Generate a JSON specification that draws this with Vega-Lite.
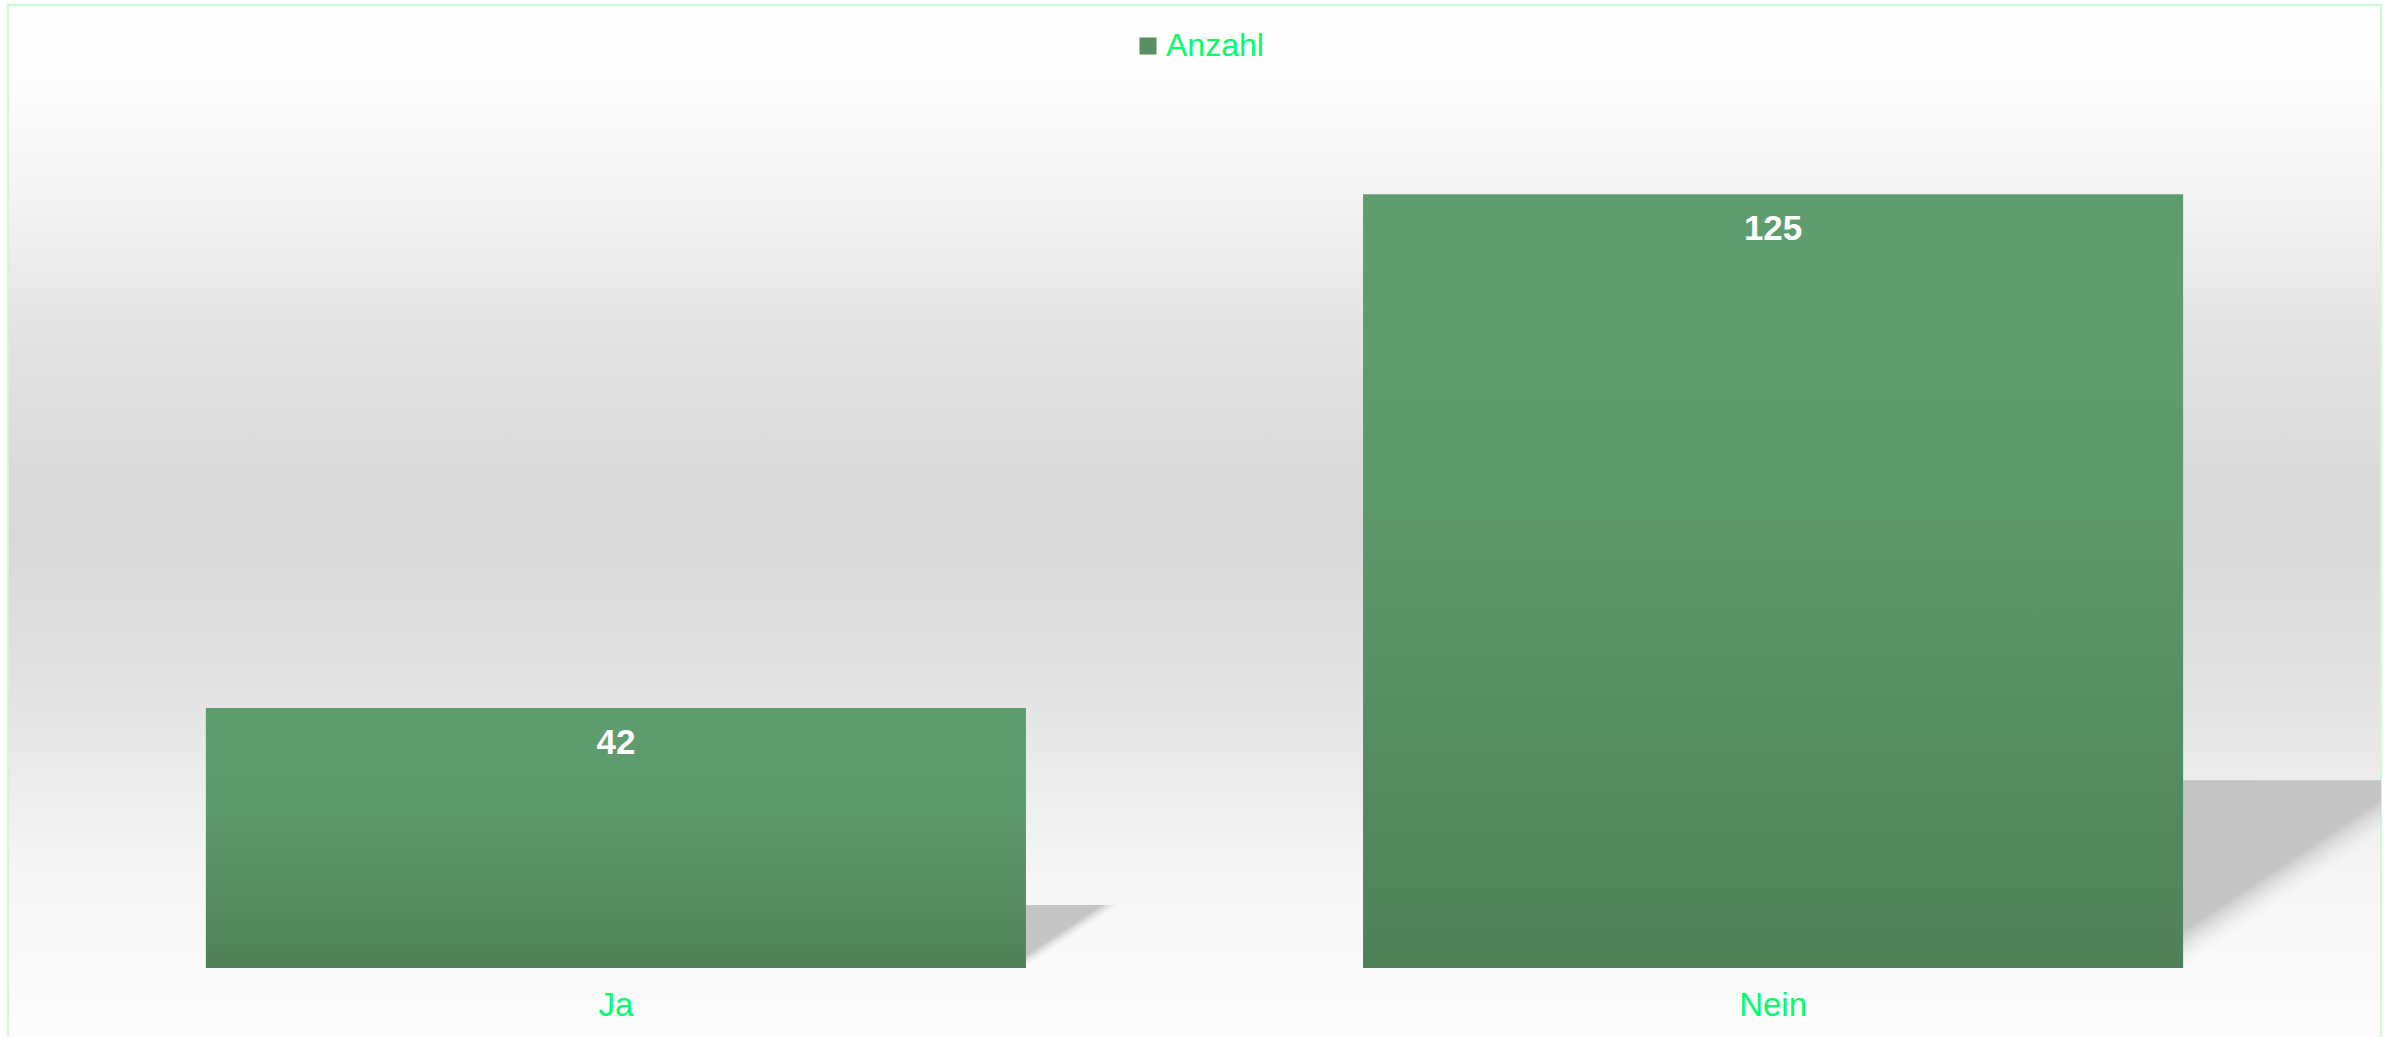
{
  "$schema": "https://vega.github.io/schema/vega-lite/v6.json",
  "width": 2373,
  "height": 1040,
  "autosize": {"type": "none"},
  "padding": {"left": 8, "top": 5, "right": 14, "bottom": 0},
  "background": "#ffffff",
  "view": {
    "stroke": "#c6fbd6",
    "strokeWidth": 2,
    "fill": {
      "gradient": "linear",
      "x1": 0, "y1": 0, "x2": 0, "y2": 1,
      "stops": [
        {"offset": 0, "color": "#ffffff"},
        {"offset": 0.072, "color": "#fdfdfd"},
        {"offset": 0.178, "color": "#f4f4f4"},
        {"offset": 0.3125, "color": "#e4e4e4"},
        {"offset": 0.457, "color": "#dadada"},
        {"offset": 0.514, "color": "#d9d9d9"},
        {"offset": 0.659, "color": "#e3e3e3"},
        {"offset": 0.841, "color": "#f6f6f6"},
        {"offset": 0.957, "color": "#fbfbfb"},
        {"offset": 1, "color": "#fdfdfd"}
      ]
    }
  },
  "config": {"font": "Liberation Sans"},
  "data": {
    "values": [
      {"Antwort": "Ja", "Anzahl": 42},
      {"Antwort": "Nein", "Anzahl": 125}
    ]
  },
  "encoding": {
    "x": {
      "field": "Antwort",
      "type": "nominal",
      "sort": null,
      "axis": null,
      "scale": {"type": "band", "paddingInner": 0.2913, "paddingOuter": 0.171}
    },
    "y": {
      "field": "Anzahl",
      "type": "quantitative",
      "axis": null,
      "scale": {"domain": [-12.44, 155.57], "nice": false, "zero": false}
    }
  },
  "layer": [
    {
      "mark": {
        "type": "point",
        "shape": "M0,0L0,-0.485L0.73,-0.485Z",
        "filled": true,
        "opacity": 1,
        "strokeWidth": 0,
        "clip": true,
        "fill": {
          "gradient": "linear",
          "x1": 0, "y1": 0, "x2": 1, "y2": 1,
          "stops": [
            {"offset": 0, "color": "#c3c3c3"},
            {"offset": 0.4, "color": "#c5c5c5"},
            {"offset": 0.5, "color": "rgba(235,235,235,0)"}
          ]
        }
      },
      "encoding": {
        "x": {"field": "Antwort", "type": "nominal", "bandPosition": 1},
        "y": {"datum": 0},
        "size": {
          "field": "Anzahl",
          "type": "quantitative",
          "legend": null,
          "scale": {"type": "pow", "exponent": 2, "domain": [0, 125], "range": [0, 598689]}
        }
      }
    },
    {
      "mark": {
        "type": "bar",
        "fill": {
          "gradient": "linear",
          "x1": 0, "y1": 0, "x2": 0, "y2": 1,
          "stops": [
            {"offset": 0, "color": "#5f9d6e"},
            {"offset": 0.4, "color": "#5c996b"},
            {"offset": 1, "color": "#4f8159"}
          ]
        }
      },
      "encoding": {
        "y2": {"datum": 0}
      }
    },
    {
      "mark": {
        "type": "point",
        "shape": "square",
        "filled": true,
        "opacity": 0
      },
      "encoding": {
        "y": {"datum": 0},
        "color": {
          "datum": "Anzahl",
          "scale": {"range": ["#578f63"]},
          "legend": {
            "orient": "none",
            "legendX": 1124,
            "legendY": 25,
            "title": null,
            "symbolType": "square",
            "symbolSize": 289,
            "symbolStrokeWidth": 0,
            "symbolOpacity": 1,
            "labelFontSize": 32,
            "labelColor": "#00ff66",
            "labelFont": "Liberation Sans",
            "labelOffset": 2
          }
        }
      }
    },
    {
      "mark": {
        "type": "text",
        "dy": 46,
        "baseline": "alphabetic",
        "fontSize": 35,
        "fontWeight": "bold",
        "color": "#ffffff"
      },
      "encoding": {
        "text": {"field": "Anzahl", "type": "quantitative"}
      }
    },
    {
      "mark": {
        "type": "text",
        "baseline": "alphabetic",
        "fontSize": 33,
        "color": "#00ff66"
      },
      "encoding": {
        "y": {"datum": -7.75},
        "text": {"field": "Antwort", "type": "nominal"}
      }
    }
  ]
}
